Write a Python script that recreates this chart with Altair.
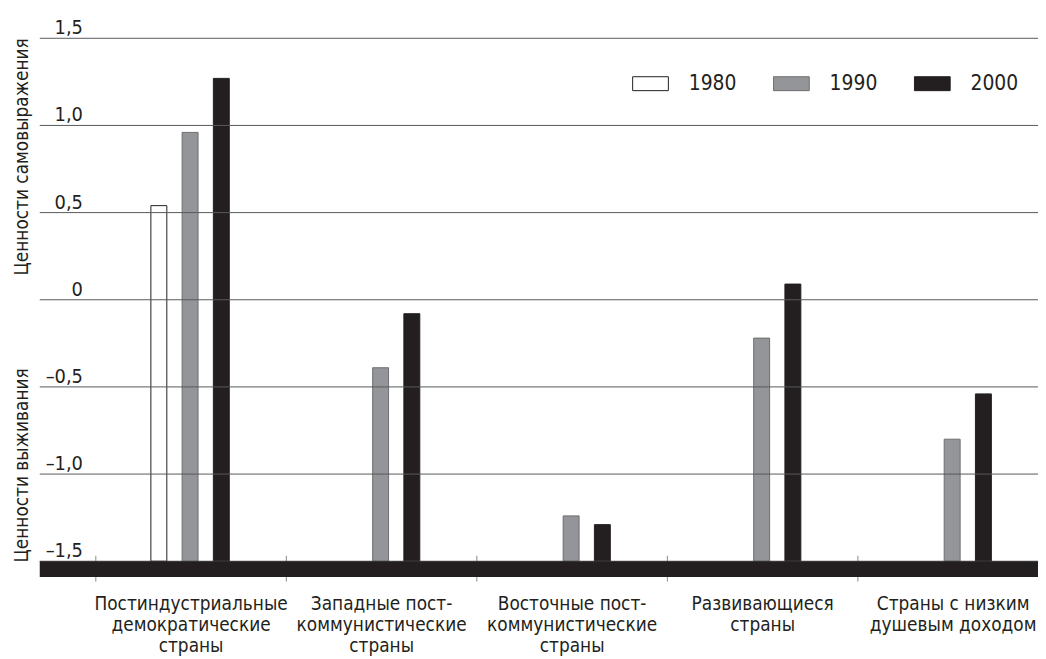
import altair as alt
import pandas as pd

FONT = "DejaVu Sans Condensed, Liberation Sans Narrow, sans-serif"
INK = "#231f20"

categories = [
    "Постиндустриальные|демократические|страны",
    "Западные пост-|коммунистические|страны",
    "Восточные пост-|коммунистические|страны",
    "Развивающиеся|страны",
    "Страны с низким|душевым доходом",
]
years = ["1980", "1990", "2000"]
v1980 = [0.54, None, None, None, None]
v1990 = [0.96, -0.39, -1.24, -0.22, -0.80]
v2000 = [1.27, -0.08, -1.29, 0.09, -0.54]
fills = ["#ffffff", "#939598", "#231f20"]
strokes = ["#231f20", "#6d6e71", "#231f20"]
grid_values = [-1.5, -1.0, -0.5, 0, 0.5, 1.0, 1.5]
axis_titles = ["Ценности самовыражения", "Ценности выживания"]
title_pos = [0.82, -0.95]

rows = []
for year, vals in zip(years, [v1980, v1990, v2000]):
    for cat, v in zip(categories, vals):
        if v is not None:
            rows.append({"category": cat, "year": year, "value": v})
df = pd.DataFrame(rows)

yscale = alt.Scale(domain=[-1.5, 1.5], nice=False, zero=False)

legend = alt.Legend(
    title=None, orient="none", legendX=597, legendY=27, direction="horizontal",
    symbolType="M-1,-0.39L1,-0.39L1,0.39L-1,0.39Z", symbolSize=1296,
    symbolStrokeWidth=1, symbolOpacity=1, labelFontSize=21, labelFont=FONT,
    labelColor=INK, labelOffset=20, columnPadding=34, padding=0,
)

grid = alt.Chart(pd.DataFrame({"g": grid_values})).mark_rule(
    color="#58595b", strokeWidth=1
).encode(y=alt.Y("g:Q", scale=yscale, title=None))

bars = alt.Chart(df).mark_bar(strokeWidth=1, opacity=1).encode(
    x=alt.X(
        "category:N", sort=categories,
        scale=alt.Scale(paddingInner=0, paddingOuter=0.14583, align=1),
        axis=alt.Axis(
            title=None, labelAngle=0, labelExpr="split(datum.label, '|')",
            domain=False, ticks=True, tickBand="extent", tickSize=26,
            tickColor="#8a8a8a", tickWidth=1, offset=-6, labelPadding=14,
            labelFontSize=19, labelFont=FONT, labelColor=INK,
            labelLineHeight=21, labelBaseline="top", labelLimit=400, grid=False,
        ),
    ),
    xOffset=alt.XOffset(
        "year:N", sort=years,
        scale=alt.Scale(range=[56, 135], paddingInner=0.49, paddingOuter=0),
    ),
    y=alt.Y(
        "value:Q", scale=yscale,
        axis=alt.Axis(
            title=None, values=grid_values, grid=False,
            domain=False, ticks=False, tickSize=0,
            labelAlign="right", labelPadding=-43, labelBaseline="alphabetic",
            labelOffset=-4.5, labelFontSize=20, labelFont=FONT, labelColor=INK,
            labelExpr="datum.value == 0 ? '0' : (datum.value < 0 ? '–' : '') + replace(format(abs(datum.value), '.1f'), '.', ',')",
        ),
    ),
    y2=alt.datum(-1.5),
    fill=alt.Fill("year:N", sort=years, scale=alt.Scale(domain=years, range=fills), legend=legend),
    stroke=alt.Stroke("year:N", sort=years, scale=alt.Scale(domain=years, range=strokes), legend=legend),
)

base = alt.Chart(pd.DataFrame({"v": [-1.5]})).mark_rule(
    color=INK, strokeWidth=16, yOffset=8
).encode(y=alt.datum(-1.5))

titles = alt.Chart(pd.DataFrame({"t": axis_titles, "y": title_pos})).mark_text(
    angle=270, font=FONT, fontSize=19, color=INK, baseline="middle", align="center"
).encode(
    y=alt.Y("y:Q", scale=yscale, title=None),
    x=alt.value(-18),
    text="t:N",
)

chart = alt.layer(bars, grid, base, titles).properties(
    width=1016, height=527,
    autosize=alt.AutoSizeParams(type="none"),
    padding={"left": 32, "top": 28, "right": -10, "bottom": 96},
    background="white",
).configure_view(stroke=None)

chart.save("out.html", embed_options={"renderer": "svg", "actions": False})
